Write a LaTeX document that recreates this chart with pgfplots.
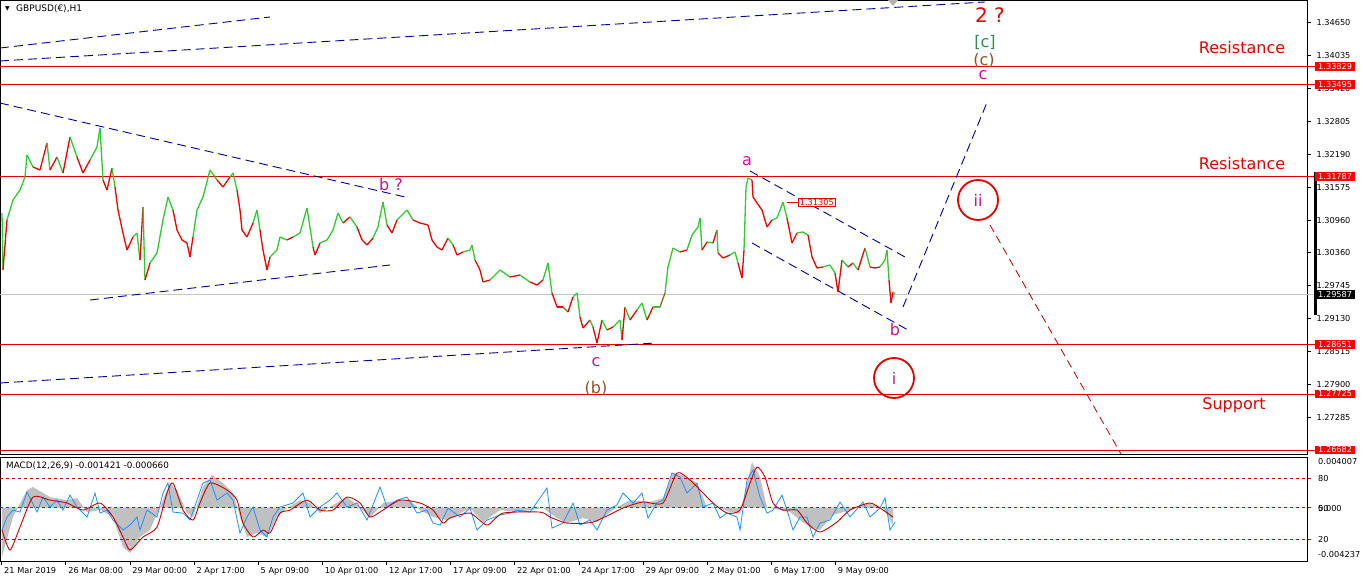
\documentclass[border=0pt]{standalone}
\usepackage{pgfplots}
\usepackage{pgfplotstable}
\usepackage{fontspec}
\pgfplotsset{compat=1.18}
\setmainfont{DejaVu Sans}

\definecolor{lvl}{RGB}{224,0,0}
\definecolor{wave}{RGB}{199,21,133}
\definecolor{wbrown}{RGB}{150,80,40}
\definecolor{wgreen}{RGB}{46,139,87}
\definecolor{trend}{RGB}{0,0,140}
\definecolor{macdblue}{RGB}{30,144,255}
\definecolor{macdred}{RGB}{200,0,0}
\definecolor{hist}{RGB}{192,192,192}

\newcommand\tk{\fontsize{8.2}{9.5}\selectfont}
\newcommand\wv{\fontsize{16}{18}\selectfont}

% GBPUSD H1 closes, x = bar position on the time axis
\pgfplotstableread{
x p
2 1.31101
3 1.30039
7 1.30971
13 1.31344
20 1.31530
25 1.31773
27 1.32183
33 1.31959
40 1.31903
47 1.32407
50 1.31903
57 1.32146
63 1.31847
70 1.32519
77 1.32146
83 1.31847
90 1.32090
97 1.32332
100 1.32686
103 1.31717
107 1.31530
112 1.31940
115 1.31586
118 1.31157
123 1.30728
127 1.30411
133 1.30654
137 1.30728
140 1.30225
143 1.31213
145 1.29852
150 1.30169
157 1.30356
163 1.30971
168 1.31400
173 1.31157
177 1.30784
182 1.30598
187 1.30542
190 1.30281
193 1.30654
197 1.31157
203 1.31400
210 1.31903
217 1.31717
223 1.31586
230 1.31773
233 1.31847
237 1.31530
240 1.31157
242 1.30784
247 1.30654
253 1.30915
257 1.31157
260 1.30784
263 1.30411
267 1.30039
270 1.30281
277 1.30411
280 1.30654
287 1.30598
293 1.30654
300 1.30728
307 1.31195
313 1.30467
315 1.30318
320 1.30542
327 1.30598
333 1.30784
338 1.31101
343 1.30915
350 1.31027
357 1.30840
362 1.30598
367 1.30505
373 1.30635
378 1.30840
383 1.31307
387 1.30878
392 1.30728
397 1.30971
400 1.31027
407 1.31157
413 1.30971
420 1.30915
428 1.30878
432 1.30598
437 1.30467
442 1.30411
448 1.30635
453 1.30505
457 1.30318
463 1.30374
470 1.30411
472 1.30505
475 1.30225
480 1.30039
483 1.29815
490 1.29852
500 1.30039
510 1.29908
520 1.29945
530 1.29815
537 1.29759
543 1.29852
548 1.30169
552 1.29610
557 1.29349
563 1.29349
568 1.29255
573 1.29535
577 1.29610
580 1.29162
583 1.28957
590 1.29106
593 1.28976
597 1.28677
602 1.29106
607 1.28920
613 1.28976
620 1.29106
622 1.28733
625 1.29349
630 1.29106
637 1.29293
642 1.29423
647 1.29106
653 1.29349
660 1.29349
665 1.29610
668 1.30095
673 1.30449
680 1.30374
687 1.30411
692 1.30691
698 1.30840
700 1.31008
702 1.30411
707 1.30561
713 1.30542
717 1.30784
718 1.30356
723 1.30262
730 1.30318
735 1.30374
738 1.30169
742 1.29889
744 1.30411
746 1.31586
748 1.31754
752 1.31717
753 1.31400
757 1.31288
762 1.31157
767 1.30840
772 1.30971
777 1.31008
783 1.31305
787 1.31008
792 1.30542
797 1.30728
803 1.30747
808 1.30691
812 1.30281
817 1.30076
823 1.30095
830 1.30132
835 1.29983
838 1.29628
842 1.30225
848 1.30095
853 1.30169
858 1.30039
865 1.30449
870 1.30095
875 1.30076
880 1.30095
885 1.30225
887 1.30411
889 1.29852
891 1.29423
893 1.29628
895 1.29587
}\price

% bar direction: change from the previous close
\pgfplotstablecreatecol[create col/assign/.code={%
    \getthisrow{p}\cur
    \getprevrow{p}\prv
    \ifx\prv\empty
      \def\entry{1}%
    \else
      \pgfmathparse{\cur-\prv}\let\entry\pgfmathresult
    \fi
    \pgfkeyslet{/pgfplots/table/create col/next content}\entry
  }]{d}\price

\begin{document}
\begin{tikzpicture}[trendline/.style={trend, line width=0.9pt, dash pattern=on 9pt off 5pt}]

%% price panel
\begin{axis}[
    at={(0pt,130pt)}, anchor=south west,
    scale only axis, width=1307pt, height=454pt,
    xmin=0, xmax=1307,
    ymin=1.26608, ymax=1.35073,
    xtick=\empty,
    ytick={1.34650,1.34035,1.33420,1.32805,1.32190,1.31575,1.30960,1.30360,1.29745,1.29130,1.28515,1.27900,1.27285},
    yticklabels={1.34650,1.34035,1.33420,1.32805,1.32190,1.31575,1.30960,1.30360,1.29745,1.29130,1.28515,1.27900,1.27285},
    ytick pos=right,
    tick align=outside,
    major tick length=4pt,
    ytick style={black, line width=0.6pt},
    yticklabel style={font=\tk, anchor=west, xshift=2pt},
    axis line style={black, line width=0.8pt},
    clip=false,
]
% levels
\draw[gray!45, line width=0.8pt] (axis cs:0,1.29587) -- (axis cs:1316,1.29587);
\pgfplotsinvokeforeach{1.33829,1.33495,1.31787,1.28651,1.27725,1.26682}{
  \draw[lvl, line width=0.9pt] (axis cs:0,#1) -- (axis cs:1316,#1);
}

% trend lines
\draw[trendline] (axis cs:0,1.34178) -- (axis cs:270,1.34756);
\draw[trendline] (axis cs:0,1.33936) -- (axis cs:985,1.35036);
\draw[trendline] (axis cs:0,1.33152) -- (axis cs:405,1.31400);
\draw[trendline] (axis cs:90,1.29479) -- (axis cs:390,1.30132);
\draw[trendline] (axis cs:0,1.27932) -- (axis cs:655,1.28677);
\draw[trendline] (axis cs:750,1.31885) -- (axis cs:905,1.30281);
\draw[trendline] (axis cs:752,1.30542) -- (axis cs:908,1.28920);
\draw[trendline] (axis cs:903,1.29349) -- (axis cs:988,1.33208);
\draw[lvl!85!black, line width=0.8pt, dash pattern=on 8pt off 5pt] (axis cs:990,1.30878) -- (axis cs:1121,1.26608);

% price
\addplot[mesh, shader=flat corner, line width=1.3pt,
  point meta=\thisrow{d}, point meta min=-0.00001, point meta max=0.00001,
  colormap={updown}{rgb255=(235,0,0) rgb255=(50,200,50)}]
  table[x=x, y=p] {\price};

% wave labels
\node[text=lvl, font=\fontsize{20}{22}\selectfont] at (axis cs:990,1.34793) {2 ?};
\node[text=wgreen, font=\wv] at (axis cs:985,1.34290) {[c]};
\node[text=wbrown, font=\wv] at (axis cs:984,1.33954) {(c)};
\node[text=wave, font=\wv] at (axis cs:983,1.33675) {c};
\node[text=lvl, font=\wv] at (axis cs:1242,1.34178) {Resistance};
\node[text=lvl, font=\wv] at (axis cs:1242,1.32015) {Resistance};
\node[text=lvl, font=\wv] at (axis cs:1234,1.27521) {Support};
\node[text=wave, font=\wv] at (axis cs:391,1.31624) {b ?};
\node[text=wave, font=\wv] at (axis cs:747,1.32071) {a};
\node[text=wave, font=\wv] at (axis cs:895,1.28920) {b};
\node[text=wave, font=\wv] at (axis cs:596,1.28323) {c};
\node[text=wbrown, font=\wv] at (axis cs:596,1.27838) {(b)};
\draw[lvl, line width=1.8pt] (axis cs:978,1.31344) circle[radius=20pt];
\node[text=wave, font=\wv] at (axis cs:978,1.31344) {ii};
\draw[lvl, line width=1.8pt] (axis cs:894,1.28025) circle[radius=20pt];
\node[text=wave, font=\wv] at (axis cs:894,1.28025) {i};
\draw[lvl, line width=0.8pt] (axis cs:787,1.31305) -- (axis cs:798,1.31305);
\node[draw=lvl, fill=white, text=lvl, font=\tk, anchor=west, inner xsep=1.5pt, inner ysep=1pt, line width=0.8pt]
  at (axis cs:798,1.31305) {1.31305};
\end{axis}

%% MACD panel
\begin{axis}[
    at={(0pt,23pt)}, anchor=south west,
    scale only axis, width=1307pt, height=104pt,
    xmin=0, xmax=1307,
    ymin=-0.004237, ymax=0.004007,
    ytick=\empty, scaled y ticks=false,
    xtick={1.7,65.8,129.9,194.1,258.2,322.4,386.5,450.6,514.7,578.9,643.0,707.1,771.3,835.4},
    xticklabels={21 Mar 2019,26 Mar 08:00,29 Mar 00:00,2 Apr 17:00,5 Apr 09:00,10 Apr 01:00,12 Apr 17:00,17 Apr 09:00,22 Apr 01:00,24 Apr 17:00,29 Apr 09:00,2 May 01:00,6 May 17:00,9 May 09:00},
    xtick pos=bottom,
    tick align=outside,
    major tick length=4pt,
    xtick style={black, line width=0.6pt},
    xticklabel style={font=\tk, anchor=north west, xshift=-1pt, yshift=1pt},
    axis line style={black, line width=0.8pt},
    clip=false,
]
\addplot[fill=hist, draw=none] coordinates {
(2,-0.00393) (13,-0.00075) (27,0.00139) (33,0.00163) (50,0.00083) (67,0.00059)
(77,0.00075) (87,-0.00036) (100,-0.00020) (113,-0.00075) (123,-0.00313) (130,-0.00361)
(140,-0.00234) (150,-0.00178) (160,0.00004) (170,0.00194) (177,0.00139) (187,-0.00044)
(193,-0.00075) (203,0.00163) (212,0.00258) (223,0.00194) (233,0.00115) (240,-0.00075)
(247,-0.00234) (257,-0.00202) (267,-0.00234) (277,-0.00075) (287,-0.00004) (300,0.00059)
(310,0.00036) (320,-0.00044) (333,0.00020) (347,0.00083) (360,0.00004) (370,-0.00083)
(383,0.00036) (400,0.00059) (410,0.00059) (420,-0.00020) (433,-0.00075) (447,-0.00099)
(470,-0.00004) (483,-0.00115) (500,-0.00020) (517,-0.00036) (543,-0.00004) (557,-0.00083)
(567,-0.00123) (583,-0.00083) (597,-0.00115) (617,0.00004) (630,0.00059) (650,0.00044)
(663,0.00075) (673,0.00274) (683,0.00258) (697,0.00194) (707,0.00004) (717,0.00004)
(730,-0.00036) (740,-0.00044) (747,0.00194) (752,0.00361) (760,0.00242) (767,0.00004)
(780,-0.00020) (790,-0.00036) (800,-0.00099) (810,-0.00155) (820,-0.00178) (833,-0.00059)
(850,-0.00020) (867,0.00036) (883,-0.00004) (893,-0.00139)
} \closedcycle;

\pgfplotsinvokeforeach{0.0023,0,-0.0025}{
  \draw[macdred, line width=0.7pt, dash pattern=on 3pt off 3pt] (axis cs:0,#1) -- (axis cs:1311,#1);
}

\addplot[macdblue, line width=0.8pt] coordinates {
(2,-0.00178) (7,-0.00075) (13,-0.00020) (20,-0.00036) (27,0.00123) (30,0.00075)
(37,-0.00036) (43,0.00083) (50,0.00004) (57,0.00059) (63,-0.00020) (70,0.00099)
(77,0.00004) (87,-0.00075) (95,0.00115) (100,-0.00044) (107,-0.00020) (113,-0.00099)
(123,-0.00178) (130,-0.00139) (137,-0.00075) (140,-0.00178) (147,-0.00020) (157,-0.00075)
(163,0.00115) (168,0.00194) (173,-0.00036) (183,-0.00044) (190,-0.00099) (197,0.00059)
(203,0.00194) (210,0.00218) (217,0.00059) (227,0.00115) (233,0.00059) (240,-0.00202)
(247,-0.00075) (253,0.00004) (260,-0.00178) (267,-0.00234) (273,-0.00075) (280,0.00004)
(293,0.00036) (303,0.00115) (310,-0.00075) (320,0.00004) (330,0.00059) (337,0.00115)
(347,0.00004) (357,0.00036) (367,-0.00099) (380,0.00163) (387,0.00004) (397,0.00059)
(407,0.00083) (417,-0.00044) (427,-0.00020) (433,-0.00123) (440,-0.00139) (448,-0.00004)
(460,-0.00075) (470,-0.00004) (477,-0.00178) (487,-0.00099) (500,-0.00059) (510,-0.00044)
(517,-0.00020) (530,-0.00036) (547,0.00155) (552,-0.00163) (563,-0.00123) (573,0.00036)
(580,-0.00139) (590,-0.00099) (597,-0.00178) (607,-0.00020) (617,0.00020) (623,0.00115)
(633,0.00036) (642,0.00115) (648,-0.00083) (657,0.00036) (663,0.00059) (672,0.00274)
(680,0.00242) (687,0.00115) (697,0.00194) (703,0.00004) (713,0.00036) (720,-0.00083)
(727,-0.00044) (737,-0.00075) (740,-0.00178) (747,0.00218) (753,0.00297) (760,0.00083)
(767,-0.00044) (773,-0.00020) (782,0.00099) (787,-0.00020) (793,-0.00178) (800,-0.00075)
(807,-0.00075) (813,-0.00234) (820,-0.00123) (830,-0.00099) (840,0.00044) (850,-0.00075)
(863,0.00044) (870,-0.00075) (880,-0.00004) (885,0.00075) (890,-0.00178) (895,-0.00115)
};

\addplot[macdred, line width=0.9pt, smooth, tension=0.4] coordinates {
(2,-0.00178) (10,-0.00337) (20,-0.00155) (33,0.00083) (50,0.00059) (67,0.00036)
(83,-0.00020) (100,0.00036) (113,-0.00075) (123,-0.00234) (130,-0.00337) (143,-0.00234)
(157,-0.00155) (167,0.00115) (173,0.00194) (183,-0.00020) (193,-0.00099) (200,0.00036)
(210,0.00194) (227,0.00139) (237,0.00059) (243,-0.00123) (253,-0.00234) (263,-0.00178)
(270,-0.00202) (280,-0.00044) (290,-0.00020) (307,0.00059) (320,-0.00020) (333,-0.00020)
(347,0.00083) (360,0.00036) (370,-0.00075) (383,-0.00020) (400,0.00059) (420,0.00036)
(433,-0.00020) (443,-0.00123) (450,-0.00083) (470,-0.00044) (487,-0.00139) (503,-0.00044)
(540,-0.00036) (550,-0.00075) (567,-0.00123) (593,-0.00115) (623,-0.00004) (643,0.00044)
(663,0.00036) (677,0.00274) (690,0.00218) (703,0.00115) (713,0.00036) (727,-0.00044)
(740,-0.00020) (750,0.00194) (757,0.00321) (765,0.00242) (773,0.00036) (783,-0.00020)
(797,-0.00020) (807,-0.00123) (820,-0.00194) (837,-0.00115) (850,-0.00020) (870,0.00036)
(883,-0.00020) (893,-0.00075)
};
\end{axis}

%% texts and price boxes around the panels
\node[anchor=west, font=\fontsize{6}{7}\selectfont, inner sep=0pt] at (5pt,575pt) {▼};
\node[anchor=west, font=\fontsize{9}{10}\selectfont, inner sep=0pt] at (16pt,575pt) {GBPUSD(€),H1};
\node[anchor=west, font=\fontsize{8.8}{10}\selectfont, inner sep=0pt] at (6pt,118pt) {MACD(12,26,9) -0.001421 -0.000660};
\fill[gray!60] (888pt,584pt) -- (898pt,584pt) -- (893pt,578pt) -- cycle;

\draw[black, line width=2.4pt] (1315.5pt,412pt) -- (1315.5pt,269pt);
\foreach \yy/\lab in {517.3/1.33829, 499.4/1.33495, 407.7/1.31787, 239.6/1.28651, 190/1.27725, 134/1.26682}
  \node[fill=red, text=white, font=\tk, anchor=west, inner xsep=3pt, inner ysep=1.3pt] at (1315pt,\yy pt) {\lab};
\node[fill=black, text=white, font=\tk, anchor=west, inner xsep=3pt, inner ysep=1.3pt] at (1315pt,289.8pt) {1.29587};

\node[anchor=west, font=\tk, inner sep=0pt] at (1318pt,122pt) {0.004007};
\node[anchor=west, font=\tk, inner sep=0pt] at (1318pt,105pt) {80};
\node[anchor=west, font=\tk, inner sep=0pt] at (1318pt,75pt) {0.000};
\node[anchor=west, font=\tk, inner sep=0pt] at (1318pt,75pt) {50};
\node[anchor=west, font=\tk, inner sep=0pt] at (1318pt,44pt) {20};
\node[anchor=west, font=\tk, inner sep=0pt] at (1318pt,29pt) {-0.004237};

\pgfresetboundingbox
\path[use as bounding box] (0,0) rectangle (1363pt,584pt);
\end{tikzpicture}
\end{document}
